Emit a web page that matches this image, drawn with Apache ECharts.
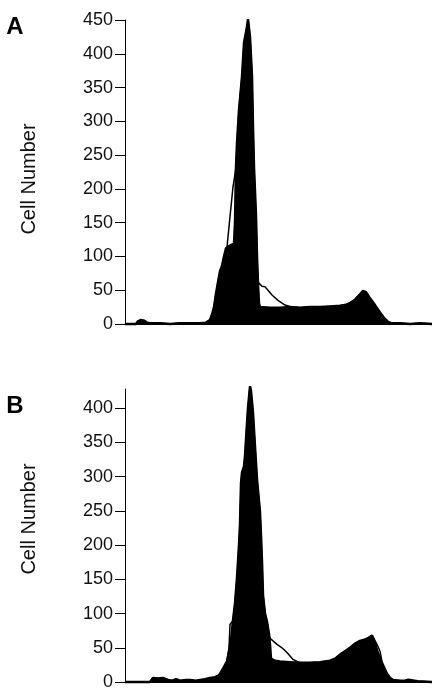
<!DOCTYPE html>
<html>
<head>
<meta charset="utf-8">
<script src="https://cdn.jsdelivr.net/npm/echarts@6/dist/echarts.min.js"></script>
<style>
  html, body { margin: 0; padding: 0; background: #fff; }
  #chart { width: 432px; height: 691px; }
</style>
</head>
<body>
<div id="chart"></div>
<script>
// channel (DNA content, unlabeled) and cell counts
const filledA = [
  [0, 0], [11, 0], [13, 4], [16, 6], [19, 5], [22, 2], [25, 1], [35, 1], [45, 0], [55, 1],
  [65, 1], [75, 1], [81, 2], [85, 6], [87, 14], [89, 25], [91, 45], [93, 62], [95, 78], [97, 86],
  [99, 100], [101, 112], [105, 116], [109, 119], [110, 150], [111, 232], [112, 268], [114, 317],
  [117, 366], [119, 416], [122, 440], [123, 451], [125, 425], [127, 366], [128, 292], [129, 232],
  [131, 160], [132, 100], [133, 60], [134, 30], [135, 25], [137, 24], [145, 24], [155, 24],
  [165, 25], [175, 24], [185, 25], [195, 25], [205, 26], [215, 27], [220, 28], [225, 31],
  [230, 36], [235, 44], [238, 49], [241, 47], [245, 38], [250, 28], [255, 17], [259, 9],
  [263, 3], [267, 1], [275, 1], [285, 0], [295, 1], [307, 0]
];
const outlineA = [
  [0, 0], [11, 0], [13, 4], [16, 6], [19, 5], [22, 2], [25, 1], [35, 1], [45, 0], [55, 1],
  [65, 1], [75, 1], [81, 2], [85, 6], [87, 14], [89, 25], [91, 45], [93, 62], [95, 78], [97, 86],
  [99, 100], [102, 114], [105, 159], [108, 203], [110, 222], [111, 232], [112, 268], [114, 317],
  [117, 366], [119, 416], [122, 440], [123, 451], [125, 425], [127, 366], [128, 292], [129, 232],
  [131, 160], [132, 100], [133, 62], [137, 56], [140, 55], [143, 50], [147, 43], [153, 35],
  [160, 28], [165, 26], [175, 24], [185, 25], [195, 25], [205, 26], [215, 27], [220, 28],
  [225, 31], [230, 36], [235, 44], [238, 49], [241, 47], [245, 38], [250, 28], [255, 17],
  [259, 9], [263, 3], [267, 1], [275, 1], [285, 0], [295, 1], [307, 0]
];
const filledB = [
  [0, 0], [25, 0], [28, 6], [33, 5], [38, 6], [43, 3], [47, 2], [51, 4], [55, 2], [61, 3],
  [65, 3], [71, 2], [75, 3], [80, 4], [85, 6], [90, 7], [93, 9], [95, 12], [99, 22], [102, 30],
  [104, 45], [106, 62], [108, 90], [110, 115], [112, 152], [114, 200], [115, 230], [116, 290],
  [117, 306], [119, 315], [120, 330], [122, 378], [123, 400], [125, 432], [126, 425], [128, 393],
  [130, 344], [132, 296], [135, 248], [136, 214], [137, 176], [138, 127], [140, 100], [142, 88],
  [144, 70], [145, 55], [146, 34], [150, 31], [155, 30], [165, 29], [175, 28], [185, 28],
  [195, 29], [205, 31], [210, 34], [215, 40], [220, 45], [225, 50], [230, 56], [235, 60],
  [240, 62], [243, 64], [247, 68], [250, 58], [252, 46], [255, 35], [257, 25], [260, 17],
  [262, 12], [265, 6], [268, 3], [275, 2], [280, 2], [285, 3], [289, 2], [293, 1], [307, 0]
];
const outlineB = [
  [0, 0], [25, 0], [28, 6], [33, 5], [38, 6], [43, 3], [47, 2], [51, 4], [55, 2], [61, 3],
  [65, 3], [71, 2], [75, 3], [80, 4], [85, 6], [90, 7], [93, 9], [95, 12], [99, 22], [102, 30],
  [104, 50], [105, 84], [107, 86], [108, 90], [110, 115], [112, 152], [114, 200], [115, 230],
  [116, 290], [117, 306], [119, 315], [120, 330], [122, 378], [123, 400], [125, 432], [126, 425],
  [128, 393], [130, 344], [132, 296], [135, 248], [136, 214], [137, 176], [138, 127], [140, 100],
  [142, 88], [144, 70], [145, 64], [148, 60], [152, 55], [157, 50], [162, 43], [165, 38],
  [168, 33], [172, 30], [175, 28], [185, 28], [195, 29], [205, 31], [210, 34], [215, 40],
  [220, 45], [225, 50], [230, 56], [235, 60], [240, 62], [243, 64], [247, 68], [250, 60],
  [252, 55], [255, 45], [257, 30], [260, 20], [262, 13], [265, 6], [268, 3], [275, 2],
  [280, 2], [283, 4], [286, 3], [289, 2], [293, 1], [307, 0]
];
const ticksA = [0, 50, 100, 150, 200, 250, 300, 350, 400, 450];
const ticksB = [0, 50, 100, 150, 200, 250, 300, 350, 400];

const font = "'Liberation Sans', Arial, Helvetica, sans-serif";

function xAx(grid) {
  return {
    gridIndex: grid, type: "value", min: 0, max: 307,
    axisLine: { show: true, lineStyle: { color: "#000", width: 1 } },
    axisTick: { show: false }, axisLabel: { show: false }, splitLine: { show: false },
  };
}
function yAx(grid, max, ticks) {
  return {
    gridIndex: grid, type: "value", min: 0, max: max, interval: 50,
    axisLine: { show: true, lineStyle: { color: "#000", width: 1 } },
    axisTick: { show: true, length: 10, customValues: ticks, lineStyle: { color: "#000", width: 1 } },
    axisLabel: { customValues: ticks, fontSize: 18, color: "#111", margin: 12, fontFamily: font },
    splitLine: { show: false },
  };
}
function hist(idx, data, filled) {
  const s = {
    type: "line", xAxisIndex: idx, yAxisIndex: idx, data: data,
    symbol: "none", clip: false, animation: false,
    lineStyle: { color: "#000", width: filled ? 2.5 : 1.5 },
    z: filled ? 2 : 3,
  };
  if (filled) s.areaStyle = { color: "#000", opacity: 1 };
  return s;
}

const chart = echarts.init(document.getElementById("chart"));
chart.setOption({
  animation: false,
  grid: [
    { left: 125, top: 20, width: 307, height: 304 },
    { left: 125, top: 389, width: 307, height: 296 },
  ],
  xAxis: [xAx(0), xAx(1)],
  yAxis: [yAx(0, 450, ticksA), yAx(1, 428, ticksB)],
  series: [
    hist(0, filledA, true),
    hist(0, outlineA, false),
    hist(1, filledB, true),
    hist(1, outlineB, false),
  ],
  graphic: [
    { type: "text", x: 15, y: 27, style: { text: "A", font: "bold 24px " + font, fill: "#000", align: "center", verticalAlign: "middle" } },
    { type: "text", x: 15, y: 406, style: { text: "B", font: "bold 24px " + font, fill: "#000", align: "center", verticalAlign: "middle" } },
    { type: "text", x: 29, y: 179, rotation: Math.PI / 2, style: { text: "Cell Number", font: "20px " + font, fill: "#111", align: "center", verticalAlign: "middle" } },
    { type: "text", x: 29, y: 519, rotation: Math.PI / 2, style: { text: "Cell Number", font: "20px " + font, fill: "#111", align: "center", verticalAlign: "middle" } },
  ],
});
window.onresize = () => chart.resize();
</script>
</body>
</html>
